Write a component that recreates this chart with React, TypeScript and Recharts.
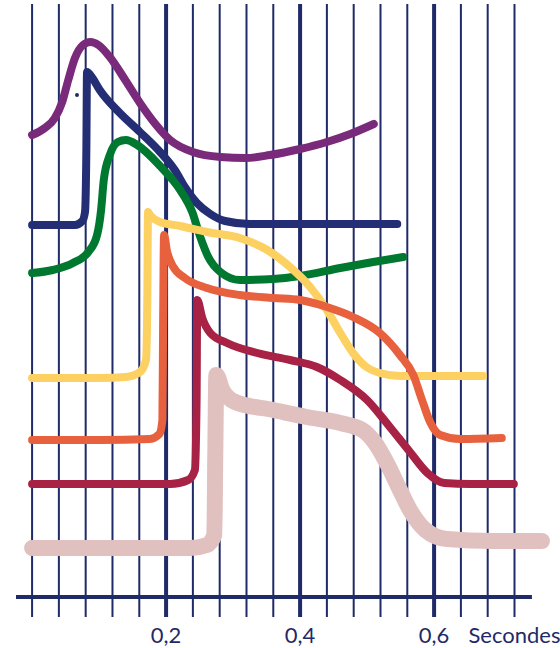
import { LineChart, Line, XAxis, YAxis, ReferenceLine, ReferenceDot } from "recharts";

// time (s) and level (arbitrary units, 0 = baseline of the time axis)
const PURPLE_T = [0, 0.019, 0.034, 0.045, 0.054, 0.064, 0.076, 0.087, 0.099, 0.116, 0.139, 0.161, 0.184, 0.206, 0.24, 0.281, 0.319, 0.355, 0.4, 0.44, 0.475, 0.51];
const PURPLE_V = [462, 469, 479, 495, 517, 539, 552, 555, 552, 540, 517, 494, 473, 457, 445, 440, 439, 442, 448, 455, 463, 473];

const NAVY_T = [0, 0.042, 0.064, 0.075, 0.079, 0.081, 0.082, 0.09, 0.101, 0.131, 0.161, 0.191, 0.213, 0.228, 0.246, 0.266, 0.288, 0.325, 0.4, 0.545];
const NAVY_V = [372, 372, 372, 376, 385, 447, 525, 519, 507, 484, 465, 445, 427, 410, 394, 383, 376, 373, 373, 373];

const GREEN_T = [0, 0.031, 0.061, 0.084, 0.097, 0.103, 0.107, 0.116, 0.128, 0.14, 0.157, 0.191, 0.221, 0.239, 0.251, 0.263, 0.281, 0.31, 0.36, 0.4, 0.46, 0.509, 0.554];
const GREEN_V = [324, 327, 334, 345, 362, 387, 417, 442, 455, 457, 452, 431, 407, 385, 360, 340, 325, 317, 318, 321, 329, 335, 340];

const YELLOW_T = [0, 0.101, 0.14, 0.161, 0.17, 0.172, 0.173, 0.176, 0.191, 0.221, 0.261, 0.31, 0.351, 0.385, 0.415, 0.44, 0.46, 0.479, 0.497, 0.519, 0.549, 0.673];
const YELLOW_V = [219, 219, 220, 225, 237, 297, 385, 382, 375, 371, 365, 359, 347, 330, 310, 287, 264, 244, 231, 224, 221, 221];

const ORANGE_T = [0, 0.101, 0.176, 0.19, 0.1945, 0.1955, 0.197, 0.201, 0.21, 0.228, 0.261, 0.31, 0.36, 0.4, 0.44, 0.479, 0.519, 0.549, 0.569, 0.582, 0.594, 0.609, 0.639, 0.701];
const ORANGE_V = [157, 157, 158, 163, 177, 267, 362, 347, 331, 319, 309, 302, 299, 297, 290, 280, 264, 242, 222, 197, 175, 162, 158, 159];

const CRIMSON_T = [0, 0.101, 0.206, 0.233, 0.243, 0.2455, 0.2465, 0.254, 0.266, 0.291, 0.336, 0.385, 0.425, 0.46, 0.5, 0.534, 0.564, 0.59, 0.615, 0.654, 0.719];
const CRIMSON_V = [113, 113, 113, 117, 127, 197, 297, 279, 264, 254, 244, 237, 230, 217, 197, 170, 145, 124, 114, 113, 113];

const PINK_T = [0, 0.101, 0.236, 0.261, 0.272, 0.2735, 0.275, 0.284, 0.303, 0.36, 0.41, 0.46, 0.493, 0.512, 0.531, 0.549, 0.564, 0.587, 0.619, 0.688, 0.761];
const PINK_V = [49, 49, 49, 52, 62, 147, 222, 207, 195, 187, 180, 174, 167, 154, 132, 107, 87, 67, 58, 56, 56];

const GRID_TIMES = [0, 0.04, 0.08, 0.12, 0.16, 0.2, 0.24, 0.28, 0.32, 0.36, 0.4, 0.44, 0.48, 0.52, 0.56, 0.6, 0.64, 0.68, 0.72];
const MAJOR_TIMES = [0.2, 0.4, 0.6];
const TICKS = [0.2, 0.4, 0.6, 0.72];
const TICK_LABELS = ["0,2", "0,4", "0,6", "Secondes"];

const INK = "#1f2a68";

const zip = (t: number[], v: number[]) => t.map((x, i) => ({ x, y: v[i] }));

const series = [
  { name: "purple", data: zip(PURPLE_T, PURPLE_V), color: "#7a2a7b", width: 8 },
  { name: "navy", data: zip(NAVY_T, NAVY_V), color: "#232e74", width: 8 },
  { name: "green", data: zip(GREEN_T, GREEN_V), color: "#00782f", width: 8 },
  { name: "yellow", data: zip(YELLOW_T, YELLOW_V), color: "#fcd162", width: 8 },
  { name: "orange", data: zip(ORANGE_T, ORANGE_V), color: "#e8613f", width: 8 },
  { name: "crimson", data: zip(CRIMSON_T, CRIMSON_V), color: "#a72245", width: 8 },
  { name: "pink", data: zip(PINK_T, PINK_V), color: "#e0c1c0", width: 16 },
];

function TimeTick(props: any) {
  const { x, y, payload } = props;
  const idx = TICKS.indexOf(payload.value);
  return (
    <text
      x={x}
      y={y + 26}
      textAnchor="middle"
      fill={INK}
      fontSize={22}
      fontFamily="Lato, sans-serif"
    >
      {TICK_LABELS[idx]}
    </text>
  );
}

export default function App() {
  return (
    <div style={{ width: 560, height: 648 }}>
      <style>{`body{margin:0}`}</style>
      <LineChart
        width={560}
        height={648}
        margin={{ top: 4, right: 5.3, bottom: 0, left: 16 }}
      >
        <XAxis
          type="number"
          dataKey="x"
          domain={[-0.024, 0.78]}
          ticks={TICKS}
          tick={<TimeTick />}
          tickLine={false}
          axisLine={false}
          tickSize={0}
          tickMargin={0}
          height={31}
          interval={0}
        />
        <YAxis type="number" dataKey="y" domain={[-20, 593]} hide />
        {GRID_TIMES.map((t) => (
          <ReferenceLine
            key={t}
            segment={[
              { x: t, y: -20 },
              { x: t, y: 593 },
            ]}
            stroke={INK}
            strokeWidth={MAJOR_TIMES.includes(t) ? 4 : 2}
          />
        ))}
        <ReferenceLine
          segment={[
            { x: -0.024, y: 0 },
            { x: 0.746, y: 0 },
          ]}
          stroke={INK}
          strokeWidth={4}
        />
        <ReferenceDot x={0.067} y={502} r={2} fill={INK} stroke="none" />
        {series.map((s) => (
          <Line
            key={s.name}
            data={s.data}
            dataKey="y"
            type="monotone"
            stroke={s.color}
            strokeWidth={s.width}
            strokeLinecap="round"
            strokeLinejoin="round"
            dot={false}
            activeDot={false}
            isAnimationActive={false}
          />
        ))}
      </LineChart>
    </div>
  );
}
